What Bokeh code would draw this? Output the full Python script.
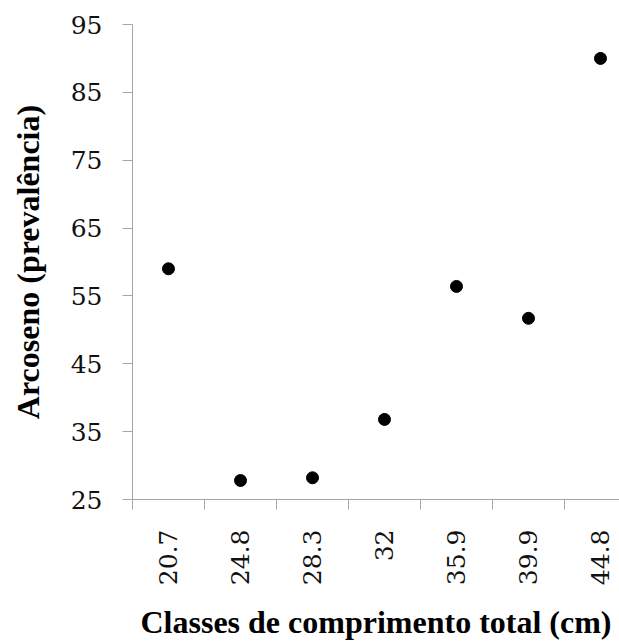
import math
from bokeh.plotting import figure
from bokeh.models import FixedTicker, Range1d
from bokeh.embed import file_html
from bokeh.resources import INLINE

categories = ["20.7", "24.8", "28.3", "32", "35.9", "39.9", "44.8"]
values = [59.0, 27.8, 28.2, 36.8, 56.4, 51.7, 90.0]
y_ticks = [25, 35, 45, 55, 65, 75, 85, 95]

centers = [i + 0.5 for i in range(len(categories))]
bounds = list(range(len(categories)))

p = figure(width=619, height=643, output_backend="svg", toolbar_location=None,
           x_range=Range1d(0, 6.764), y_range=Range1d(25, 95),
           min_border_left=132, min_border_right=0, min_border_top=24, min_border_bottom=143)
p.background_fill_color = "white"
p.border_fill_color = "white"
p.outline_line_color = None
p.xgrid.visible = False
p.ygrid.visible = False

p.scatter(centers, values, size=12, color="black", marker="circle")

title_font = "Liberation Serif"
tick_font = "DejaVu Serif"
axis_gray = "#a6a6a6"

xa = p.xaxis[0]
xa.ticker = FixedTicker(ticks=centers, minor_ticks=bounds)
xa.major_label_overrides = {c: lab for c, lab in zip(centers, categories)}
xa.major_label_orientation = math.pi / 2
xa.major_tick_out = 0
xa.major_tick_in = 0
xa.minor_tick_out = 10
xa.minor_tick_in = 0
xa.minor_tick_line_color = axis_gray
xa.axis_line_color = axis_gray
xa.major_label_text_font = tick_font
xa.major_label_text_font_size = "25px"
xa.major_label_text_color = "#111111"
xa.major_label_standoff = 20
xa.axis_label = "Classes de comprimento total (cm)"
xa.axis_label_text_font = title_font
xa.axis_label_text_font_style = "bold"
xa.axis_label_text_font_size = "32px"
xa.axis_label_text_color = "black"
xa.axis_label_standoff = 16

ya = p.yaxis[0]
ya.ticker = FixedTicker(ticks=y_ticks, minor_ticks=[])
ya.major_tick_out = 10
ya.major_tick_in = 0
ya.major_tick_line_color = axis_gray
ya.axis_line_color = axis_gray
ya.major_label_text_font = tick_font
ya.major_label_text_font_size = "25px"
ya.major_label_text_color = "#111111"
ya.major_label_standoff = 20
ya.axis_label = "Arcoseno (prevalência)"
ya.axis_label_text_font = title_font
ya.axis_label_text_font_style = "bold"
ya.axis_label_text_font_size = "32px"
ya.axis_label_text_color = "black"
ya.axis_label_standoff = 22

open("out.html", "w").write(file_html(p, INLINE))
